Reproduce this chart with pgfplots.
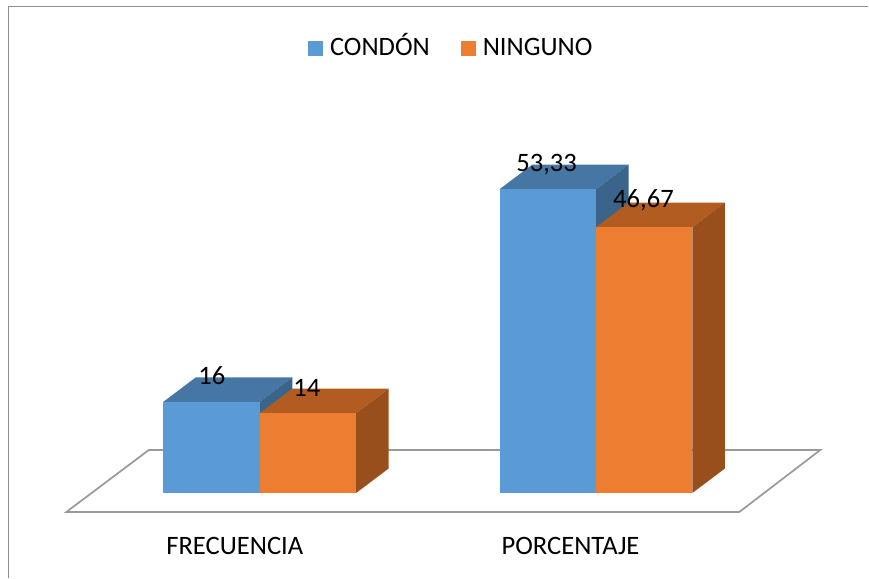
\documentclass[border=0pt]{standalone}
\usepackage{pgfplots}
\pgfplotsset{compat=1.18}
\usepackage{fontspec}
\setmainfont{Carlito}
\definecolor{blueFront}{HTML}{5B9BD5}
\definecolor{blueTop}{HTML}{4676A3}
\definecolor{blueSide}{HTML}{3A648A}
\definecolor{orangeFront}{HTML}{ED7D31}
\definecolor{orangeTop}{HTML}{B25C21}
\definecolor{orangeSide}{HTML}{984F1B}
\definecolor{frameGray}{HTML}{8F8F8F}
\definecolor{floorGray}{HTML}{999999}

% Depth of the extruded columns: 32.5 units across, 4.3 value units upward
\newcommand{\columnfaces}[4]{%
  % #1 left edge, #2 value, #3 top colour, #4 side colour
  \addplot[forget plot, draw=none, fill=#3] coordinates
    {(#1,#2) (#1+96.5,#2) (#1+129,#2+4.3) (#1+32.5,#2+4.3)} -- cycle;
  \addplot[forget plot, draw=none, fill=#4] coordinates
    {(#1+96.5,0) (#1+129,4.3) (#1+129,#2+4.3) (#1+96.5,#2)} -- cycle;
}

\begin{document}
\begin{tikzpicture}
\begin{axis}[
  at={(0,0)}, anchor=south west,
  scale only axis, width=869bp, height=578bp,
  xmin=0, xmax=869, ymin=-14.85, ymax=86.55,
  clip=false,
  axis line style={draw=none},
  ytick=\empty,
  xtick={235,571},
  xticklabels={FRECUENCIA,PORCENTAJE},
  tick style={draw=none},
  xticklabel style={anchor=center, yshift=32bp, font=\fontsize{26.7}{30}\selectfont},
  legend style={
    at={(0.5196,0.9157)}, anchor=center, draw=none, fill=none,
    legend columns=2, font=\fontsize{26.7}{30}\selectfont,
    nodes={text height=18bp, text depth=5bp},
    /tikz/every odd column/.append style={column sep=5bp},
    /tikz/every even column/.append style={column sep=29bp}
  },
  legend image code/.code={
    \fill[#1] (0bp,-7.5bp) rectangle (15bp,7.5bp);
  },
  column bar/.style={ybar, bar width=96.5bp, bar shift=0pt, draw=none},
]
% Outer frame of the chart area: left and top edges only
\addplot[forget plot, color=frameGray, line width=1.4bp] coordinates
  {(8.5,-14.85) (8.5,85.45) (869,85.45)};
% Floor plane
\addplot[forget plot, color=floorGray, line width=1.7bp] coordinates
  {(66.5,-3.33) (740,-3.33) (821,7.55) (149,7.55)} -- cycle;

% FRECUENCIA
\columnfaces{163.5}{16}{blueTop}{blueSide}
\addplot[column bar, fill=blueFront] coordinates {(211.75,16)};
\addlegendentry{CONDÓN}
\columnfaces{260}{14}{orangeTop}{orangeSide}
\addplot[column bar, fill=orangeFront] coordinates {(308.25,14)};
\addlegendentry{NINGUNO}

% PORCENTAJE
\columnfaces{500}{53.33}{blueTop}{blueSide}
\addplot[forget plot, column bar, fill=blueFront] coordinates {(548.25,53.33)};
\columnfaces{596.5}{46.67}{orangeTop}{orangeSide}
\addplot[forget plot, column bar, fill=orangeFront] coordinates {(644.75,46.67)};

% Value labels
\begin{scope}[every node/.style={font=\fontsize{26.7}{30}\selectfont, inner sep=0pt}]
\node at (axis cs:212,20.6) {16};
\node at (axis cs:307,18.5) {14};
\node at (axis cs:547,57.65) {53,33};
\node at (axis cs:644,51.35) {46,67};
\end{scope}
\end{axis}
\end{tikzpicture}
\end{document}
